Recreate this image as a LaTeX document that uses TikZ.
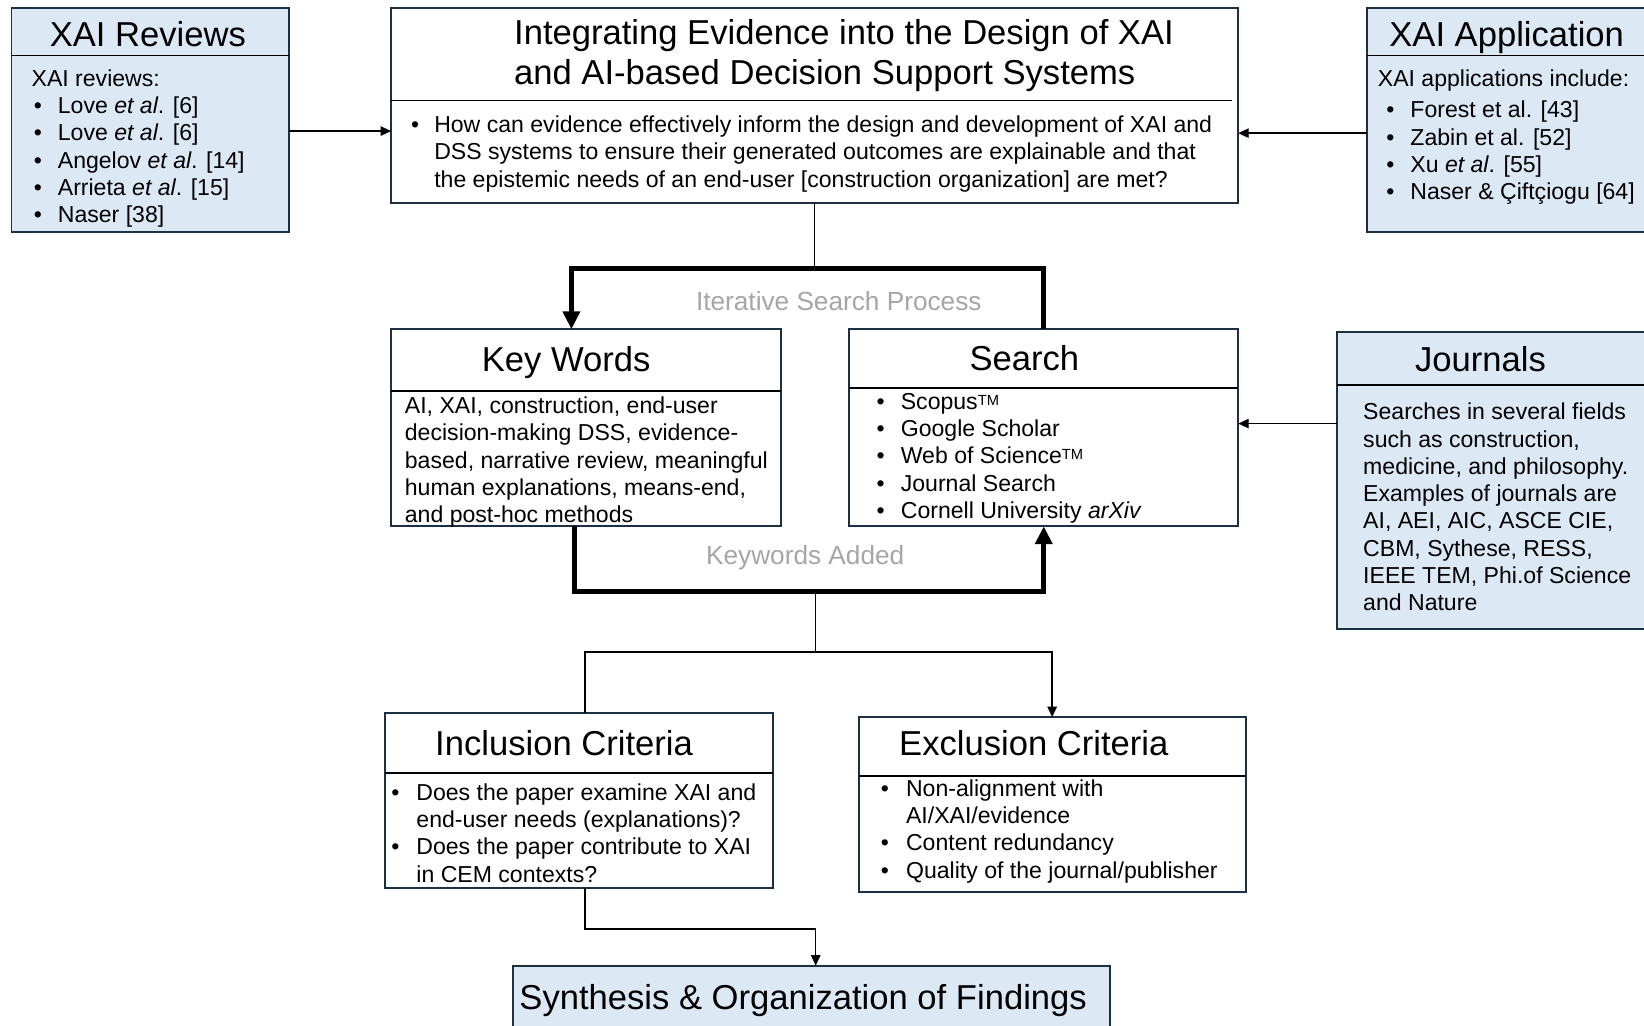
\documentclass[tikz,border=0pt]{standalone}
\usepackage{fontspec}
\setmainfont{Liberation Sans}
\usetikzlibrary{arrows.meta}
\definecolor{boxfill}{RGB}{220,233,245}
\definecolor{boxline}{RGB}{27,48,66}
\definecolor{graytxt}{RGB}{166,166,166}
\newcommand{\bul}[1]{\makebox[#1][l]{\textbullet}}
\begin{document}
\begin{tikzpicture}[x=1pt,y=-1pt,
  box/.style={draw=boxline, line width=1.8pt, anchor=north west, inner sep=0pt, outer sep=0pt},
  bluebox/.style={box, fill=boxfill},
  whitebox/.style={box, fill=white},
  hdr/.style={line width=1.5pt, draw=black},
  ttl/.style={font=\fontsize{33}{39}\selectfont, inner sep=0pt, anchor=base},
  body/.style={font=\fontsize{22}{26}\selectfont, inner sep=0pt, anchor=north west, align=left},
  conn/.style={line width=1.4pt},
  connarrow/.style={conn, -{Triangle[length=10pt,width=9pt]}},
  loopline/.style={line width=5pt},
  looparrow/.style={loopline, -{Triangle[length=17pt,width=16pt]}},
  lbl/.style={font=\fontsize{25}{30}\selectfont, text=graytxt, inner sep=0pt, anchor=base}
]
\path[use as bounding box] (0,0) rectangle (1568,978);
\fill[white] (0,0) rectangle (1568,978);
\begin{scope}
\clip (0,0) rectangle (1568,978);
% boxes
\node[bluebox, minimum width=265pt, minimum height=213pt] (rev) at (11,8) {};
\node[whitebox, minimum width=808pt, minimum height=186pt] (main) at (373,8) {};
\node[bluebox, minimum width=300pt, minimum height=213pt] (app) at (1304,8) {};
\node[bluebox, minimum width=330pt, minimum height=283pt] (jour) at (1275,317) {};
\node[whitebox, minimum width=372pt, minimum height=188pt] (kw) at (373,314) {};
\node[whitebox, minimum width=371pt, minimum height=188pt] (srch) at (810,314) {};
\node[whitebox, minimum width=370pt, minimum height=167pt] (inc) at (367,680) {};
\node[whitebox, minimum width=369pt, minimum height=167pt] (exc) at (819,684) {};
\node[bluebox, minimum width=570pt, minimum height=90pt] (syn) at (489,921) {};
% header lines
\draw[hdr] (rev.west |- 0,53) -- (rev.east |- 0,53);
\draw[hdr] (main.west |- 0,96) -- (1175,96);
\draw[hdr] (app.west |- 0,53) -- (app.east |- 0,53);
\draw[hdr] (jour.west |- 0,367) -- (jour.east |- 0,367);
\draw[hdr] (kw.west |- 0,373) -- (kw.east |- 0,373);
\draw[hdr] (srch.west |- 0,370) -- (srch.east |- 0,370);
\draw[hdr] (inc.west |- 0,737) -- (inc.east |- 0,737);
\draw[hdr] (exc.west |- 0,740) -- (exc.east |- 0,740);
% titles
\node[ttl] (revT) at (141,44) {XAI Reviews};
\node[ttl, anchor=center, align=left] (mainT) at (805,53) {Integrating Evidence into the Design of XAI\\and AI-based Decision Support Systems};
\node[ttl] (appT) at (1437,44) {XAI Application};
\node[ttl] (jourT) at (1412,354) {Journals};
\node[ttl] (kwT) at (540,354) {Key Words};
\node[ttl] (srchT) at (977,353) {Search};
\node[ttl] (incT) at (538,721) {Inclusion Criteria};
\node[ttl] (excT) at (986,721) {Exclusion Criteria};
\node[ttl] (synT) at (766,963) {Synthesis \& Organization of Findings};
% bodies
\node[body] (revB) at (30,64) {\strut XAI reviews:\\
\hspace*{2pt}\bul{23pt}Love \textit{et al}. [6]\\
\hspace*{2pt}\bul{23pt}Love \textit{et al}. [6]\\
\hspace*{2pt}\bul{23pt}Angelov \textit{et al}. [14]\\
\hspace*{2pt}\bul{23pt}Arrieta \textit{et al}. [15]\\
\hspace*{2pt}\bul{23pt}Naser [38]};
\node[body] (mainB) at (392,108) {\strut\bul{22pt}How can evidence effectively inform the design and development of XAI and\\
\hspace*{22pt}DSS systems to ensure their generated outcomes are explainable and that\\
\hspace*{22pt}the epistemic needs of an end-user [construction organization] are met?};
\node[body] (appB) at (1314,64) {\strut XAI applications include:\\[4pt]
\hspace*{8pt}\bul{23pt}Forest et al. [43]\\
\hspace*{8pt}\bul{23pt}Zabin et al. [52]\\
\hspace*{8pt}\bul{23pt}Xu \textit{et al}. [55]\\
\hspace*{8pt}\bul{23pt}Naser \& Çiftçiogu [64]};
\node[body] (jourB) at (1300,382) {\strut Searches in several fields\\
such as construction,\\
medicine, and philosophy.\\
Examples of journals are\\
AI, AEI, AIC, ASCE CIE,\\
CBM, Sythese, RESS,\\
IEEE TEM, Phi.of Science\\
and Nature};
\node[body] (kwB) at (386,376) {\strut AI, XAI, construction, end-user\\
decision-making DSS, evidence-\\
based, narrative review, meaningful\\
human explanations, means-end,\\
and post-hoc methods};
\node[body] (srchB) at (836,372) {\strut\bul{23pt}Scopus{\fontsize{14}{14}\selectfont\raisebox{4pt}{TM}}\\
\bul{23pt}Google Scholar\\
\bul{23pt}Web of Science{\fontsize{14}{14}\selectfont\raisebox{4pt}{TM}}\\
\bul{23pt}Journal Search\\
\bul{23pt}Cornell University \textit{arXiv}};
\node[body] (incB) at (373,745) {\strut\bul{24pt}Does the paper examine XAI and\\
\hspace*{24pt}end-user needs (explanations)?\\
\bul{24pt}Does the paper contribute to XAI\\
\hspace*{24pt}in CEM contexts?};
\node[body] (excB) at (840,741) {\strut\bul{24pt}Non-alignment with\\
\hspace*{24pt}AI/XAI/evidence\\
\bul{24pt}Content redundancy\\
\bul{24pt}Quality of the journal/publisher};
% labels
\node[lbl] (lblIter) at (800,296) {Iterative Search Process};
\node[lbl] (lblKey) at (768,538) {Keywords Added};
% connectors
\coordinate (a1) at (0,125);
\coordinate (a2) at (0,127);
\coordinate (a3) at (0,404);
\draw[connarrow] (rev.east |- a1) -- (main.west |- a1);
\draw[connarrow] (app.west |- a2) -- (main.east |- a2);
\draw[connarrow] (jour.west |- a3) -- (srch.east |- a3);
\coordinate (topjoin) at (778,256);
\draw[conn] (main.south) -- (main.south |- topjoin);
\coordinate (kwin) at (545,256);
\draw[looparrow] (srch.north) |- (kwin) -- (kwin |- kw.north);
\coordinate (kwout) at (548,564);
\draw[looparrow] (kwout |- kw.south) -- (kwout) -| (srch.south);
\coordinate (split) at (778,564);
\coordinate (fork) at (778,622);
\coordinate (forkL) at (558,622);
\draw[conn] (split) -- (fork);
\draw[connarrow] (inc.north -| forkL) |- (fork) -| (exc.north);
\coordinate (synin) at (778,886);
\draw[connarrow] (inc.south -| forkL) |- (synin) -- (synin |- syn.north);
\end{scope}
\end{tikzpicture}
\end{document}
